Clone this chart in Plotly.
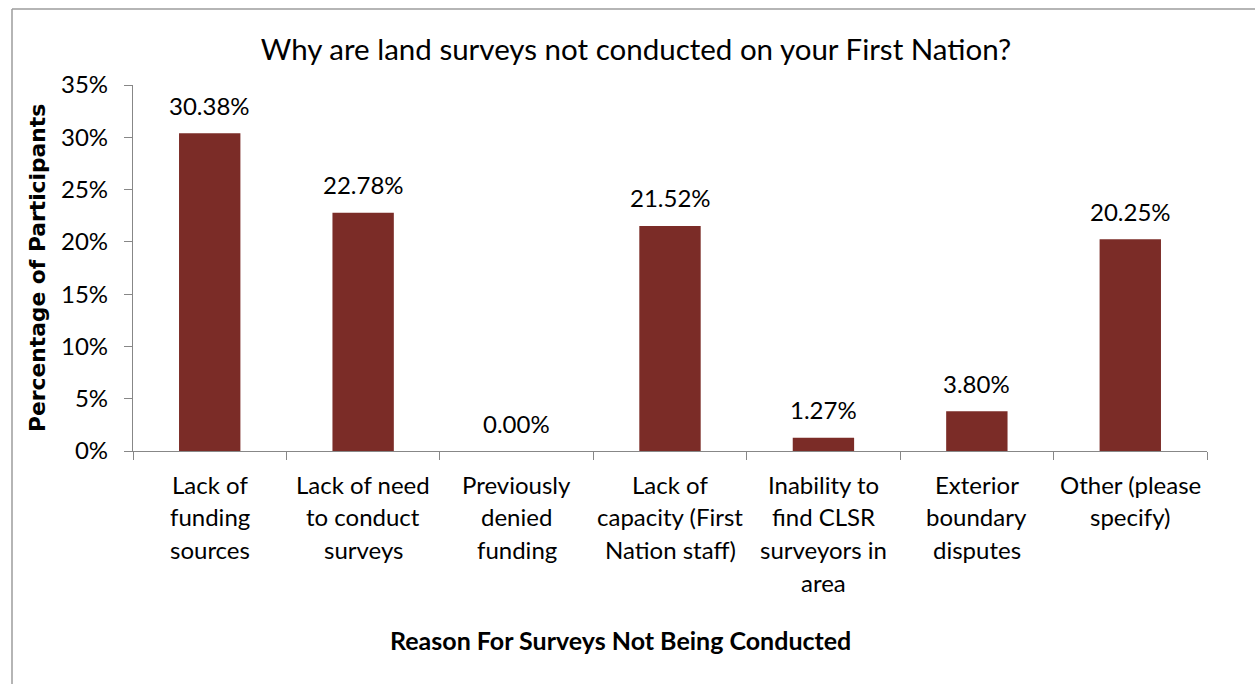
import plotly.graph_objects as go

# Survey results
categories = [
    "Lack of funding sources",
    "Lack of need to conduct surveys",
    "Previously denied funding",
    "Lack of capacity (First Nation staff)",
    "Inability to find CLSR surveyors in area",
    "Exterior boundary disputes",
    "Other (please specify)",
]
category_lines = [
    ["Lack of", "funding", "sources"],
    ["Lack of need", "to conduct", "surveys"],
    ["Previously", "denied", "funding"],
    ["Lack of", "capacity (First", "Nation staff)"],
    ["Inability to", "find CLSR", "surveyors in", "area"],
    ["Exterior", "boundary", "disputes"],
    ["Other (please", "specify)"],
]
percentages = [30.38, 22.78, 0.00, 21.52, 1.27, 3.80, 20.25]
y_tick_values = [0, 5, 10, 15, 20, 25, 30, 35]
y_tick_labels = ["0%", "5%", "10%", "15%", "20%", "25%", "30%", "35%"]

BAR_COLOR = "#7B2C27"
AXIS_COLOR = "#878787"
FONT = "Lato"
TEXT_SIZE = 24

W, H = 1255, 684
M_L, M_R, M_T, M_B = 133, 48, 85, 233
PW, PH = W - M_L - M_R, H - M_T - M_B


def px_x(p):
    return (p - M_L) / PW


def px_y(p):
    return (H - M_B - p) / PH


fig = go.Figure()
fig.add_trace(go.Bar(
    x=categories,
    y=percentages,
    marker=dict(color=BAR_COLOR, line=dict(width=0)),
    width=0.4,
    hoverinfo="x+y",
))

annotations = []
# value labels above bars
for cat, val in zip(categories, percentages):
    annotations.append(dict(
        x=cat, y=val, xref="x", yref="y",
        text=f"{val:.2f}%", showarrow=False,
        yanchor="middle", yshift=28,
        font=dict(family=FONT, size=TEXT_SIZE, color="#000000"),
    ))
# multi-line category labels
for cat, lines in zip(categories, category_lines):
    for i, line in enumerate(lines):
        annotations.append(dict(
            x=cat, y=0, xref="x", yref="paper",
            text=line, showarrow=False,
            yanchor="middle", yshift=-(33 + 32.7 * i),
            font=dict(family=FONT, size=TEXT_SIZE, color="#000000"),
        ))
# axis titles
annotations.append(dict(
    x=px_x(620), y=px_y(640), xref="paper", yref="paper",
    text="<b>Reason For Surveys Not Being Conducted</b>", showarrow=False,
    xanchor="center", yanchor="middle",
    font=dict(family=FONT, size=25, color="#000000"),
))
annotations.append(dict(
    x=px_x(37), y=0.5, xref="paper", yref="paper",
    text="<b>Percentage of Participants</b>", showarrow=False,
    textangle=-90, xanchor="center", yanchor="middle",
    font=dict(family="DejaVu Sans", size=21.8, color="#000000"),
))

border = "#9C9C9C"
shapes = [
    dict(type="line", xref="paper", yref="paper",
         x0=px_x(12), x1=px_x(W + 20), y0=px_y(9), y1=px_y(9),
         line=dict(color=border, width=1.5)),
    dict(type="line", xref="paper", yref="paper",
         x0=px_x(12), x1=px_x(12), y0=px_y(9), y1=px_y(H + 20),
         line=dict(color=border, width=1.5)),
]

fig.update_layout(
    width=W, height=H,
    margin=dict(l=M_L, r=M_R, t=M_T, b=M_B),
    paper_bgcolor="white", plot_bgcolor="white",
    showlegend=False,
    bargap=0.6,
    title=dict(
        text="Why are land surveys not conducted on your First Nation?",
        x=636 / W, y=1 - 50 / H, xanchor="center", yanchor="middle",
        font=dict(family=FONT, size=29.5, color="#000000"),
    ),
    xaxis=dict(
        showticklabels=False,
        showline=True, linecolor=AXIS_COLOR, linewidth=1.3,
        ticks="outside", tickson="boundaries", ticklen=8,
        tickcolor=AXIS_COLOR, tickwidth=1.3,
        showgrid=False, zeroline=False,
    ),
    yaxis=dict(
        range=[0, 35],
        tickvals=y_tick_values, ticktext=y_tick_labels,
        showline=True, linecolor=AXIS_COLOR, linewidth=1.3,
        ticks="outside", ticklen=8, tickcolor=AXIS_COLOR, tickwidth=1.3,
        ticklabelstandoff=11,
        tickfont=dict(family=FONT, size=TEXT_SIZE, color="#000000"),
        showgrid=False, zeroline=False,
    ),
    annotations=annotations,
    shapes=shapes,
)

fig.write_html("out.html")
